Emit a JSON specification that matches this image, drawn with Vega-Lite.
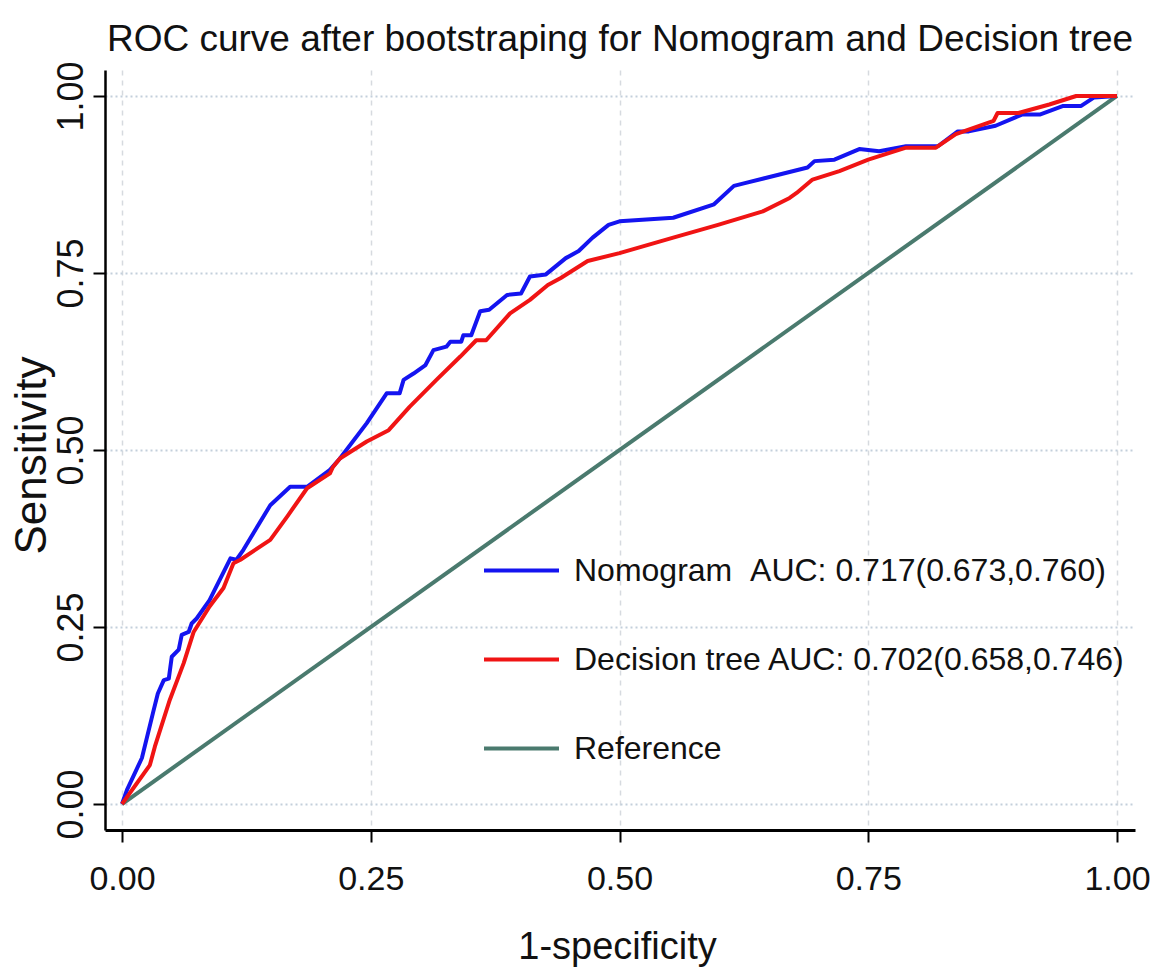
{
  "$schema": "https://vega.github.io/schema/vega-lite/v6.json",
  "width": 1030,
  "height": 760,
  "autosize": {"type": "none"},
  "padding": {"left": 105, "top": 70, "right": 23, "bottom": 147},
  "background": "white",
  "title": {
    "text": "ROC curve after bootstraping for Nomogram and Decision tree",
    "font": "Liberation Sans",
    "fontSize": 37,
    "fontWeight": "normal",
    "color": "#111111",
    "anchor": "middle",
    "frame": "group",
    "baseline": "alphabetic",
    "offset": 14,
    "dy": 41
  },
  "config": {
    "view": {"stroke": null},
    "legend": {"padding": 0}
  },
  "data": {
    "values": [
      {"series": "Reference", "x": 0, "y": 0},
      {"series": "Reference", "x": 1, "y": 1},
      {"series": "Nomogram", "x": 0, "y": 0},
      {"series": "Nomogram", "x": 0.005, "y": 0.02},
      {"series": "Nomogram", "x": 0.02, "y": 0.065},
      {"series": "Nomogram", "x": 0.031, "y": 0.128},
      {"series": "Nomogram", "x": 0.036, "y": 0.156},
      {"series": "Nomogram", "x": 0.042, "y": 0.175},
      {"series": "Nomogram", "x": 0.047, "y": 0.177},
      {"series": "Nomogram", "x": 0.05, "y": 0.208},
      {"series": "Nomogram", "x": 0.057, "y": 0.218},
      {"series": "Nomogram", "x": 0.06, "y": 0.239},
      {"series": "Nomogram", "x": 0.067, "y": 0.243},
      {"series": "Nomogram", "x": 0.07, "y": 0.255},
      {"series": "Nomogram", "x": 0.075, "y": 0.262},
      {"series": "Nomogram", "x": 0.088, "y": 0.288},
      {"series": "Nomogram", "x": 0.109, "y": 0.347},
      {"series": "Nomogram", "x": 0.115, "y": 0.345},
      {"series": "Nomogram", "x": 0.122, "y": 0.359},
      {"series": "Nomogram", "x": 0.149, "y": 0.422},
      {"series": "Nomogram", "x": 0.169, "y": 0.448},
      {"series": "Nomogram", "x": 0.186, "y": 0.448},
      {"series": "Nomogram", "x": 0.209, "y": 0.472},
      {"series": "Nomogram", "x": 0.219, "y": 0.488},
      {"series": "Nomogram", "x": 0.246, "y": 0.538},
      {"series": "Nomogram", "x": 0.266, "y": 0.58},
      {"series": "Nomogram", "x": 0.279, "y": 0.58},
      {"series": "Nomogram", "x": 0.283, "y": 0.599},
      {"series": "Nomogram", "x": 0.293, "y": 0.608},
      {"series": "Nomogram", "x": 0.305, "y": 0.62},
      {"series": "Nomogram", "x": 0.313, "y": 0.641},
      {"series": "Nomogram", "x": 0.326, "y": 0.646},
      {"series": "Nomogram", "x": 0.33, "y": 0.653},
      {"series": "Nomogram", "x": 0.341, "y": 0.653},
      {"series": "Nomogram", "x": 0.343, "y": 0.662},
      {"series": "Nomogram", "x": 0.351, "y": 0.662},
      {"series": "Nomogram", "x": 0.36, "y": 0.696},
      {"series": "Nomogram", "x": 0.369, "y": 0.698},
      {"series": "Nomogram", "x": 0.387, "y": 0.719},
      {"series": "Nomogram", "x": 0.401, "y": 0.721},
      {"series": "Nomogram", "x": 0.41, "y": 0.745},
      {"series": "Nomogram", "x": 0.426, "y": 0.748},
      {"series": "Nomogram", "x": 0.446, "y": 0.771},
      {"series": "Nomogram", "x": 0.459, "y": 0.781},
      {"series": "Nomogram", "x": 0.473, "y": 0.8},
      {"series": "Nomogram", "x": 0.489, "y": 0.818},
      {"series": "Nomogram", "x": 0.5, "y": 0.823},
      {"series": "Nomogram", "x": 0.554, "y": 0.828},
      {"series": "Nomogram", "x": 0.595, "y": 0.847},
      {"series": "Nomogram", "x": 0.615, "y": 0.873},
      {"series": "Nomogram", "x": 0.626, "y": 0.877},
      {"series": "Nomogram", "x": 0.689, "y": 0.899},
      {"series": "Nomogram", "x": 0.696, "y": 0.908},
      {"series": "Nomogram", "x": 0.716, "y": 0.91},
      {"series": "Nomogram", "x": 0.741, "y": 0.925},
      {"series": "Nomogram", "x": 0.761, "y": 0.922},
      {"series": "Nomogram", "x": 0.788, "y": 0.929},
      {"series": "Nomogram", "x": 0.82, "y": 0.929},
      {"series": "Nomogram", "x": 0.84, "y": 0.95},
      {"series": "Nomogram", "x": 0.851, "y": 0.95},
      {"series": "Nomogram", "x": 0.878, "y": 0.958},
      {"series": "Nomogram", "x": 0.905, "y": 0.974},
      {"series": "Nomogram", "x": 0.923, "y": 0.974},
      {"series": "Nomogram", "x": 0.946, "y": 0.986},
      {"series": "Nomogram", "x": 0.964, "y": 0.986},
      {"series": "Nomogram", "x": 0.977, "y": 0.998},
      {"series": "Nomogram", "x": 1.0, "y": 1.0},
      {"series": "Decision tree", "x": 0, "y": 0},
      {"series": "Decision tree", "x": 0.028, "y": 0.055},
      {"series": "Decision tree", "x": 0.033, "y": 0.081},
      {"series": "Decision tree", "x": 0.048, "y": 0.147},
      {"series": "Decision tree", "x": 0.062, "y": 0.199},
      {"series": "Decision tree", "x": 0.072, "y": 0.243},
      {"series": "Decision tree", "x": 0.088, "y": 0.279},
      {"series": "Decision tree", "x": 0.102, "y": 0.305},
      {"series": "Decision tree", "x": 0.112, "y": 0.34},
      {"series": "Decision tree", "x": 0.119, "y": 0.345},
      {"series": "Decision tree", "x": 0.149, "y": 0.373},
      {"series": "Decision tree", "x": 0.166, "y": 0.406},
      {"series": "Decision tree", "x": 0.186, "y": 0.446},
      {"series": "Decision tree", "x": 0.209, "y": 0.467},
      {"series": "Decision tree", "x": 0.212, "y": 0.476},
      {"series": "Decision tree", "x": 0.219, "y": 0.488},
      {"series": "Decision tree", "x": 0.246, "y": 0.512},
      {"series": "Decision tree", "x": 0.268, "y": 0.528},
      {"series": "Decision tree", "x": 0.289, "y": 0.561},
      {"series": "Decision tree", "x": 0.316, "y": 0.599},
      {"series": "Decision tree", "x": 0.34, "y": 0.632},
      {"series": "Decision tree", "x": 0.356, "y": 0.655},
      {"series": "Decision tree", "x": 0.366, "y": 0.655},
      {"series": "Decision tree", "x": 0.39, "y": 0.693},
      {"series": "Decision tree", "x": 0.41, "y": 0.712},
      {"series": "Decision tree", "x": 0.428, "y": 0.733},
      {"series": "Decision tree", "x": 0.441, "y": 0.743},
      {"series": "Decision tree", "x": 0.468, "y": 0.767},
      {"series": "Decision tree", "x": 0.5, "y": 0.778},
      {"series": "Decision tree", "x": 0.554, "y": 0.8},
      {"series": "Decision tree", "x": 0.599, "y": 0.818},
      {"series": "Decision tree", "x": 0.644, "y": 0.837},
      {"series": "Decision tree", "x": 0.671, "y": 0.856},
      {"series": "Decision tree", "x": 0.678, "y": 0.863},
      {"series": "Decision tree", "x": 0.694, "y": 0.882},
      {"series": "Decision tree", "x": 0.721, "y": 0.894},
      {"series": "Decision tree", "x": 0.75, "y": 0.91},
      {"series": "Decision tree", "x": 0.788, "y": 0.927},
      {"series": "Decision tree", "x": 0.818, "y": 0.927},
      {"series": "Decision tree", "x": 0.838, "y": 0.946},
      {"series": "Decision tree", "x": 0.876, "y": 0.965},
      {"series": "Decision tree", "x": 0.88, "y": 0.976},
      {"series": "Decision tree", "x": 0.901, "y": 0.976},
      {"series": "Decision tree", "x": 0.932, "y": 0.988},
      {"series": "Decision tree", "x": 0.959, "y": 1.0},
      {"series": "Decision tree", "x": 1.0, "y": 1.0}
    ]
  },
  "mark": {"type": "line", "strokeJoin": "round", "strokeCap": "butt"},
  "encoding": {
    "x": {
      "field": "x",
      "type": "quantitative",
      "scale": {"domain": [-0.0171, 1.0181], "nice": false, "zero": false},
      "axis": {
        "values": [0, 0.25, 0.5, 0.75, 1],
        "format": ".2f",
        "title": "1-specificity",
        "grid": true,
        "gridDash": [5, 5],
        "gridColor": "#d6dadf",
        "gridWidth": 1.5,
        "domainColor": "#000000",
        "domainWidth": 3,
        "tickColor": "#000000",
        "tickSize": 12,
        "tickWidth": 2,
        "labelFont": "Liberation Sans",
        "labelFontSize": 34,
        "labelColor": "#111111",
        "labelPadding": 20,
        "labelFlush": false,
        "titleFont": "Liberation Sans",
        "titleFontSize": 38,
        "titleFontWeight": "normal",
        "titleColor": "#111111",
        "titleBaseline": "alphabetic",
        "titleAlign": "center",
        "titleX": 512,
        "titleY": 128
      }
    },
    "y": {
      "field": "y",
      "type": "quantitative",
      "scale": {"domain": [-0.0367, 1.0367], "nice": false, "zero": false},
      "axis": {
        "values": [0, 0.25, 0.5, 0.75, 1],
        "format": ".2f",
        "title": "Sensitivity",
        "grid": true,
        "gridDash": [2, 3],
        "gridColor": "#c3cfdb",
        "gridWidth": 2,
        "domainColor": "#000000",
        "domainWidth": 2.5,
        "tickColor": "#000000",
        "tickSize": 12,
        "tickWidth": 2,
        "labelFont": "Liberation Sans",
        "labelFontSize": 36,
        "labelColor": "#111111",
        "labelAngle": -90,
        "labelAlign": "center",
        "labelBaseline": "alphabetic",
        "labelPadding": 11,
        "labelFlush": false,
        "titleFont": "Liberation Sans",
        "titleFontSize": 44,
        "titleFontWeight": "normal",
        "titleColor": "#111111",
        "titleAngle": -90,
        "titleBaseline": "alphabetic",
        "titleAlign": "center",
        "titleX": -60,
        "titleY": 385
      }
    },
    "color": {
      "field": "series",
      "type": "nominal",
      "scale": {
        "domain": ["Nomogram", "Decision tree", "Reference"],
        "range": ["#1414f0", "#f01414", "#4a7a6e"]
      },
      "legend": {
        "title": null,
        "orient": "none",
        "legendX": 377,
        "legendY": 461,
        "symbolType": "stroke",
        "symbolSize": 5625,
        "symbolStrokeWidth": 4,
        "labelFont": "Liberation Sans",
        "labelFontSize": 32,
        "labelColor": "#111111",
        "labelOffset": 13,
        "labelLimit": 0,
        "rowPadding": 33,
        "labelExpr": "datum.label == 'Nomogram' ? 'Nomogram\u00a0\u00a0AUC: 0.717(0.673,0.760)' : datum.label == 'Decision tree' ? 'Decision tree AUC: 0.702(0.658,0.746)' : 'Reference'"
      }
    },
    "strokeWidth": {
      "field": "series",
      "type": "nominal",
      "scale": {"domain": ["Nomogram", "Decision tree", "Reference"], "range": [4, 4, 3]},
      "legend": null
    }
  }
}
